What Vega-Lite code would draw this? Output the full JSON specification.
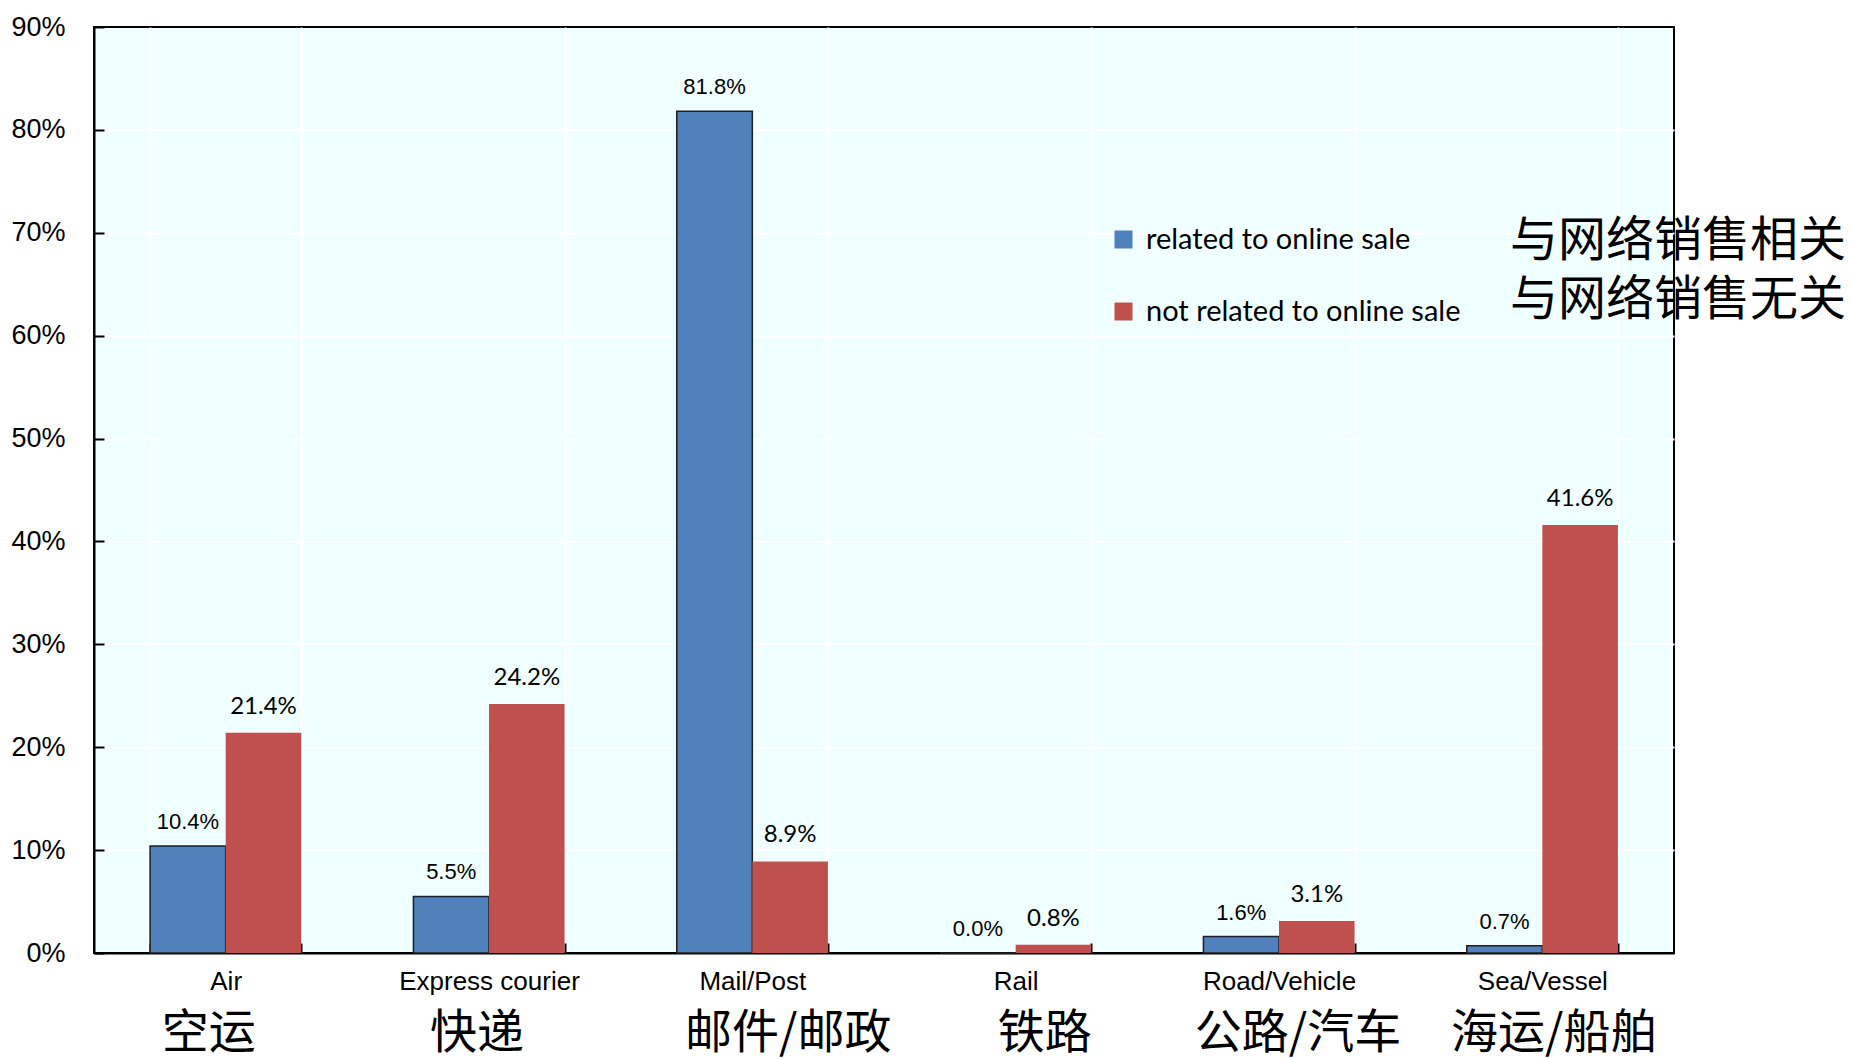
{
  "$schema": "https://vega.github.io/schema/vega-lite/v6.json",
  "width": 1580,
  "height": 926,
  "autosize": {"type": "none"},
  "padding": {"left": 94, "top": 27, "right": 177, "bottom": 106},
  "background": "white",
  "config": {
    "view": {"fill": "#F0FFFF", "stroke": "black", "strokeWidth": 2},
    "axis": {"labelColor": "black", "titleColor": "black", "labelLimit": 1000}
  },
  "data": {
    "values": [
      {"cat": "Air", "series": "related to online sale", "series_zh": "与网络销售相关", "value": 0.104},
      {"cat": "Air", "series": "not related to online sale", "series_zh": "与网络销售无关", "value": 0.214},
      {"cat": "Express courier", "series": "related to online sale", "series_zh": "与网络销售相关", "value": 0.055},
      {"cat": "Express courier", "series": "not related to online sale", "series_zh": "与网络销售无关", "value": 0.242},
      {"cat": "Mail/Post", "series": "related to online sale", "series_zh": "与网络销售相关", "value": 0.818},
      {"cat": "Mail/Post", "series": "not related to online sale", "series_zh": "与网络销售无关", "value": 0.089},
      {"cat": "Rail", "series": "related to online sale", "series_zh": "与网络销售相关", "value": 0.0},
      {"cat": "Rail", "series": "not related to online sale", "series_zh": "与网络销售无关", "value": 0.008},
      {"cat": "Road/Vehicle", "series": "related to online sale", "series_zh": "与网络销售相关", "value": 0.016},
      {"cat": "Road/Vehicle", "series": "not related to online sale", "series_zh": "与网络销售无关", "value": 0.031},
      {"cat": "Sea/Vessel", "series": "related to online sale", "series_zh": "与网络销售相关", "value": 0.007},
      {"cat": "Sea/Vessel", "series": "not related to online sale", "series_zh": "与网络销售无关", "value": 0.416}
    ]
  },
  "layer": [
    {
      "mark": {"type": "bar", "strokeWidth": 1.5},
      "encoding": {
        "x": {
          "field": "cat", "type": "nominal", "sort": null,
          "scale": {"paddingInner": 0.426, "paddingOuter": 0.213},
          "axis": {
            "orient": "bottom", "title": null, "labelAngle": 0,
            "labelFont": "Liberation Sans Narrow, Arial Narrow, Liberation Sans",
            "labelFontSize": 26, "labelPadding": 25, "labelBaseline": "top",
            "tickBand": "extent", "tickSize": -10, "tickColor": "black", "tickWidth": 2,
            "domainColor": "black", "domainWidth": 2,
            "grid": true, "gridColor": "white", "gridWidth": 2
          }
        },
        "xOffset": {"field": "series", "type": "nominal", "scale": {"domain": ["related to online sale", "not related to online sale"]}},
        "y": {
          "field": "value", "type": "quantitative",
          "scale": {"domain": [0, 0.9], "nice": false},
          "axis": {
            "title": null, "values": [0, 0.1, 0.2, 0.3, 0.4, 0.5, 0.6, 0.7, 0.8, 0.9],
            "format": ".0%",
            "labelFont": "Liberation Sans Narrow, Arial Narrow, Liberation Sans",
            "labelFontSize": 27, "labelPadding": 39,
            "tickSize": -10, "tickColor": "black", "tickWidth": 2,
            "domainColor": "black", "domainWidth": 2,
            "grid": true, "gridWidth": 2,
            "gridColor": {"condition": {"test": "datum.value >= 0.89 || datum.value <= 0.001", "value": "transparent"}, "value": "white"}
          }
        },
        "color": {
          "field": "series", "type": "nominal",
          "scale": {"domain": ["related to online sale", "not related to online sale"], "range": ["#4F81BD", "#C0504D"]},
          "legend": {
            "orient": "none", "legendX": 1015, "legendY": 198, "title": null,
            "labelFont": "Lato", "labelFontSize": 29, "labelColor": "black", "labelLimit": 1000,
            "symbolType": "square", "symbolSize": 324, "symbolOpacity": 1,
            "rowPadding": 42, "labelOffset": 8, "padding": 0,
            "encode": {"symbols": {"update": {
              "stroke": {"signal": "datum.value === 'related to online sale' ? '#1F1F1F' : 'transparent'"},
              "strokeWidth": {"value": 1.5}
            }}}
          }
        },
        "stroke": {
          "condition": {"test": "datum.series === 'related to online sale'", "value": "#1F1F1F"},
          "value": null
        }
      }
    },
    {
      "transform": [{"filter": "datum.series === 'related to online sale'"}],
      "mark": {"type": "text", "font": "Liberation Sans Narrow, Arial Narrow, Liberation Sans", "fontSize": 22, "baseline": "alphabetic", "dy": -17, "color": "black"},
      "encoding": {
        "x": {
          "field": "cat", "type": "nominal", "sort": null,
          "scale": {"paddingInner": 0.426, "paddingOuter": 0.213},
          "axis": {
            "orient": "bottom", "title": null, "labelAngle": 0,
            "labelExpr": "{'Air': '空运', 'Express courier': '快递', 'Mail/Post': '邮件/邮政', 'Rail': '铁路', 'Road/Vehicle': '公路/汽车', 'Sea/Vessel': '海运/船舶'}[datum.value]",
            "labelFont": "Noto Sans CJK SC", "labelFontSize": 47, "labelPadding": 57, "labelBaseline": "top",
            "labelOffset": {
              "condition": [
                {"test": "datum.value === 'Air'", "value": -17},
                {"test": "datum.value === 'Express courier'", "value": -12},
                {"test": "datum.value === 'Mail/Post'", "value": 36},
                {"test": "datum.value === 'Rail'", "value": 29},
                {"test": "datum.value === 'Road/Vehicle'", "value": 19},
                {"test": "datum.value === 'Sea/Vessel'", "value": 12}
              ],
              "value": 0
            },
            "ticks": false, "domain": false, "grid": false
          }
        },
        "xOffset": {"field": "series", "type": "nominal", "scale": {"domain": ["related to online sale", "not related to online sale"]}},
        "y": {"field": "value", "type": "quantitative", "scale": {"domain": [0, 0.9], "nice": false}},
        "text": {"field": "value", "type": "quantitative", "format": ".1%"}
      }
    },
    {
      "transform": [{"filter": "datum.series === 'not related to online sale'"}],
      "mark": {"type": "text", "font": "Lato", "fontSize": 24, "baseline": "alphabetic", "dy": -19, "color": "black"},
      "encoding": {
        "x": {"field": "cat", "type": "nominal", "sort": null, "scale": {"paddingInner": 0.426, "paddingOuter": 0.213}, "axis": null},
        "xOffset": {"field": "series", "type": "nominal", "scale": {"domain": ["related to online sale", "not related to online sale"]}},
        "y": {"field": "value", "type": "quantitative", "scale": {"domain": [0, 0.9], "nice": false}},
        "text": {"field": "value", "type": "quantitative", "format": ".1%"}
      }
    },
    {
      "mark": {"type": "point", "opacity": 0},
      "encoding": {
        "x": {"field": "cat", "type": "nominal", "sort": null, "scale": {"paddingInner": 0.426, "paddingOuter": 0.213}, "axis": null},
        "xOffset": {"field": "series", "type": "nominal", "scale": {"domain": ["related to online sale", "not related to online sale"]}},
        "y": {"field": "value", "type": "quantitative", "scale": {"domain": [0, 0.9], "nice": false}},
        "shape": {
          "field": "series_zh", "type": "nominal",
          "scale": {"domain": ["与网络销售相关", "与网络销售无关"]},
          "legend": {
            "orient": "none", "legendX": 1368, "legendY": 191, "title": null,
            "labelFont": "Noto Sans CJK SC", "labelFontSize": 48, "labelColor": "black", "labelLimit": 1000,
            "symbolOpacity": 0, "symbolSize": 1, "symbolStrokeWidth": 0,
            "labelOffset": 0, "rowPadding": 11, "padding": 0
          }
        }
      }
    }
  ],
  "resolve": {"axis": {"x": "independent"}}
}
